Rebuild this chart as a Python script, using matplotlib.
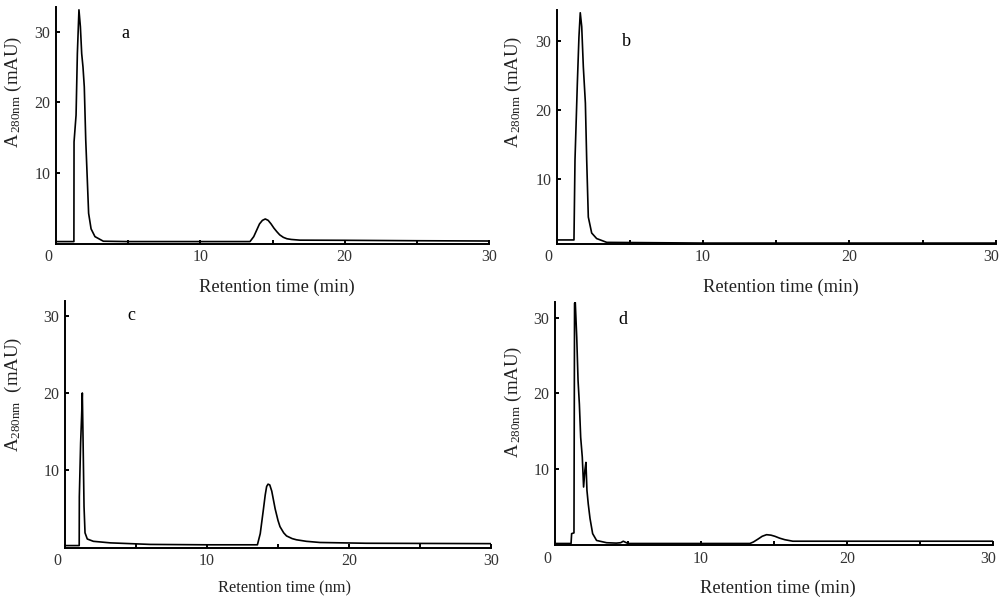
import numpy as np
import matplotlib
matplotlib.use("Agg")
import matplotlib.pyplot as plt
import matplotlib.transforms as mtransforms

plt.rcParams["font.family"] = ["Liberation Serif", "DejaVu Serif"]
plt.rcParams["mathtext.fontset"] = "custom"
plt.rcParams["mathtext.rm"] = "Liberation Serif"
plt.rcParams["mathtext.it"] = "Liberation Serif:italic"

# chromatogram traces (time in min, absorbance in mAU)
a_time = [0, 1.24, 1.25, 1.39, 1.48, 1.59, 1.69, 1.78, 1.87, 1.96, 2.06, 2.17,
          2.26, 2.43, 2.7, 3.28, 5, 8, 10, 13.44, 13.7, 13.9, 14.1, 14.3, 14.5,
          14.7, 14.9, 15.1, 15.3, 15.5, 15.75, 16.0, 16.3, 16.9, 20, 25, 30]
a_abs = [0.3, 0.3, 14.4, 18.2, 26.9, 33.1, 30.7, 26.9, 25.0, 22.2, 14.7, 9.0,
         4.3, 2.1, 1.0, 0.35, 0.3, 0.3, 0.3, 0.3, 1.0, 1.9, 2.8, 3.3, 3.5,
         3.3, 2.8, 2.2, 1.7, 1.25, 0.9, 0.7, 0.6, 0.5, 0.48, 0.42, 0.38]

b_time = [0, 1.18, 1.25, 1.41, 1.52, 1.61, 1.71, 1.82, 1.96, 2.05, 2.16, 2.39,
          2.73, 3.42, 10, 20, 30]
b_abs = [1.3, 1.3, 12.8, 23.8, 30.5, 34.0, 32.0, 26.2, 21.0, 12.8, 4.6, 2.3,
         1.5, 0.95, 0.85, 0.85, 0.85]

c_time = [0, 1.0, 1.01, 1.1, 1.17, 1.22, 1.27, 1.34, 1.41, 1.57, 2.0, 3.2, 4.6,
          6, 10, 13.55, 13.75, 13.97, 14.1, 14.2, 14.3, 14.42, 14.56, 14.8,
          15.0, 15.14, 15.4, 15.6, 16.0, 16.3, 17.0, 17.96, 21.2, 30]
c_abs = [0.25, 0.25, 6.6, 13.5, 17.0, 20.0, 14.2, 5.3, 1.9, 1.1, 0.8, 0.6, 0.5,
         0.4, 0.35, 0.35, 1.8, 4.9, 6.8, 7.9, 8.2, 8.1, 7.3, 5.0,
         3.5, 2.7, 1.9, 1.5, 1.15, 1.0, 0.8, 0.65, 0.55, 0.5]

d_time = [0, 1.1, 1.14, 1.3, 1.34, 1.39, 1.49, 1.58, 1.67, 1.76, 1.87, 1.96,
          2.05, 2.12, 2.19, 2.28, 2.4, 2.58, 2.85, 3.54, 4.2, 4.5, 4.68, 5.0,
          13.36, 13.6, 13.93, 14.2, 14.5, 14.8, 15.07, 15.4, 15.75, 16.3, 30]
d_abs = [0.2, 0.2, 1.5, 1.6, 31.9, 32.0, 27.4, 21.7, 18.6, 14.2, 11.6, 7.65,
         9.9, 10.9, 7.2, 5.4, 3.5, 1.5, 0.6, 0.3, 0.25, 0.3, 0.5, 0.2,
         0.2, 0.4, 0.8, 1.15, 1.36, 1.3, 1.15, 0.9, 0.7, 0.5, 0.5]

panels = [
    # trace, axes box (fig fraction), ylim, letter pos (px), ylabel, ylabel centre, xlabel, xlabel centre
    dict(t=a_time, y=a_abs, box=[0.056, 0.5918, 0.433, 0.3965], ylim=(0, 33.5),
         letter="a", letter_xy=(125, 33),
         ylab=r"A$_{\,\mathrm{280nm}}$ (mAU)", ylab_xy=(13, 92),
         xlab="Retention time (min)", xlab_xy=(277, 287), xsize=13.3),
    dict(t=b_time, y=b_abs, box=[0.5567, 0.5918, 0.439, 0.3915], ylim=(0.76, 34.4),
         letter="b", letter_xy=(626, 41),
         ylab=r"A$_{\,\mathrm{280nm}}$ (mAU)", ylab_xy=(513, 92),
         xlab="Retention time (min)", xlab_xy=(781, 287), xsize=13.3),
    dict(t=c_time, y=c_abs, box=[0.065, 0.0829, 0.426, 0.4129], ylim=(0, 31.9),
         letter="c", letter_xy=(131, 316),
         ylab=r"A$_{\mathrm{280nm}}$  (mAU)", ylab_xy=(13, 394),
         xlab="Retention time (nm)", xlab_xy=(284, 588), xsize=11.8),
    dict(t=d_time, y=d_abs, box=[0.555, 0.0871, 0.4377, 0.4075], ylim=(0, 32.1),
         letter="d", letter_xy=(623, 320),
         ylab=r"A$_{\,\mathrm{280nm}}$ (mAU)", ylab_xy=(513, 402),
         xlab="Retention time (min)", xlab_xy=(778, 588), xsize=13.3),
]

W, H = 1000, 597
fig = plt.figure(figsize=(W / 100, H / 100), dpi=100)

for p in panels:
    ax = fig.add_axes(p["box"])
    ax.plot(p["t"], p["y"], color="black", linewidth=1.2)
    ax.set_xlim(0, 30)
    ax.set_ylim(*p["ylim"])

    for side in ("top", "right"):
        ax.spines[side].set_visible(False)
    for side in ("left", "bottom"):
        ax.spines[side].set_linewidth(1.4)

    ax.set_xticks([0, 10, 20, 30])
    ax.set_xticks([5, 15, 25], minor=True)
    ax.set_yticks([10, 20, 30])
    ax.tick_params(which="both", direction="in", length=3, width=1.4,
                   labelsize=11.5, labelcolor="#333333", pad=4)

    # the origin "0" sits a little left of the corner
    labels = ax.get_xticklabels()
    shift = mtransforms.ScaledTranslation(-8 / 100, 0, fig.dpi_scale_trans)
    labels[0].set_transform(labels[0].get_transform() + shift)
    # keep the last "30" inside the picture
    x_right = p["box"][0] + p["box"][2]
    if x_right > 0.99:
        shift_r = mtransforms.ScaledTranslation(-5 / 100, 0, fig.dpi_scale_trans)
        labels[-1].set_transform(labels[-1].get_transform() + shift_r)

    lx, ly = p["letter_xy"]
    fig.text(lx / W, 1 - ly / H, p["letter"], fontsize=13, ha="center", va="center")

    yx, yy = p["ylab_xy"]
    fig.text(yx / W, 1 - yy / H, p["ylab"], fontsize=13.5, rotation=90,
             ha="center", va="center", color="#222222")

    xx, xy = p["xlab_xy"]
    fig.text(xx / W, 1 - xy / H, p["xlab"], fontsize=p["xsize"],
             ha="center", va="center", color="#222222")

fig.savefig("out.png", dpi=100)
